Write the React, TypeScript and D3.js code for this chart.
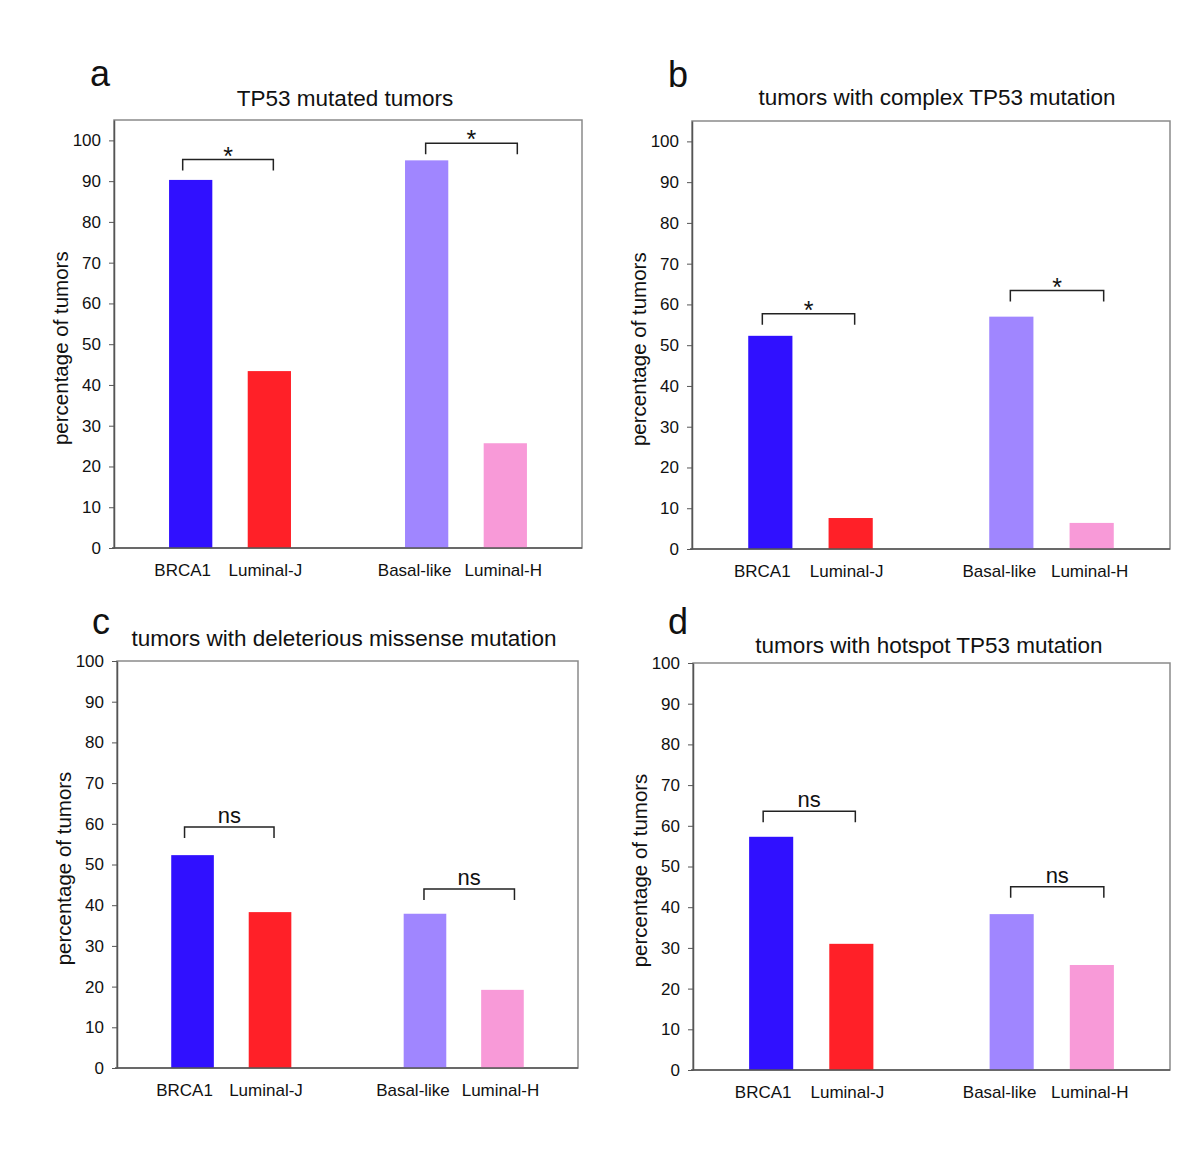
import * as d3 from "d3";
import React, { useEffect, useRef } from "react";

// categories and values (percentage of tumors)
const categories = ["BRCA1", "Luminal-J", "Basal-like", "Luminal-H"];
const slots = ["BRCA1", "Luminal-J", "gap", "Basal-like", "Luminal-H"];
const barColors = ["#3010ff", "#ff2028", "#a086ff", "#f89ad8"];
const yTicks = [0, 10, 20, 30, 40, 50, 60, 70, 80, 90, 100];

const mutatedValues = [90.3, 43.4, 95.1, 25.7];
const complexValues = [52.3, 7.6, 57.0, 6.4];
const missenseValues = [52.3, 38.3, 37.9, 19.2];
const hotspotValues = [57.3, 31.0, 38.3, 25.8];

const mutatedSig = ["*", "*"];
const complexSig = ["*", "*"];
const missenseSig = ["ns", "ns"];
const hotspotSig = ["ns", "ns"];

// bracket heights in data units (pair 1, pair 2)
const mutatedBracket = [95.3, 99.3];
const complexBracket = [57.7, 63.4];
const missenseBracket = [59.2, 44.0];
const hotspotBracket = [63.6, 45.0];

// small hand placement offsets of the original (px)
const labelShift = [-8, -4, -12, -2];
const bracketShift = [[-8, 4], [-1, 12]];

const panels = [
  { letter: "a", title: "TP53 mutated tumors", values: mutatedValues, sig: mutatedSig, bracket: mutatedBracket,
    left: 114, right: 582, bottom: 548, top: 120, yMax: 105, titleX: 345, titleY: 106, letterX: 100, letterY: 86 },
  { letter: "b", title: "tumors with complex TP53 mutation", values: complexValues, sig: complexSig, bracket: complexBracket,
    left: 692, right: 1170, bottom: 549, top: 121, yMax: 105, titleX: 937, titleY: 105, letterX: 678, letterY: 87 },
  { letter: "c", title: "tumors with deleterious missense mutation", values: missenseValues, sig: missenseSig, bracket: missenseBracket,
    left: 117, right: 578, bottom: 1068, top: 661, yMax: 100, titleX: 344, titleY: 646, letterX: 101, letterY: 634 },
  { letter: "d", title: "tumors with hotspot TP53 mutation", values: hotspotValues, sig: hotspotSig, bracket: hotspotBracket,
    left: 693, right: 1170, bottom: 1070, top: 663, yMax: 100, titleX: 929, titleY: 653, letterX: 678, letterY: 634 },
];

const FONT = "'Liberation Sans', Arial, Helvetica, sans-serif";

export default function App() {
  const svgRef = useRef<SVGSVGElement | null>(null);

  useEffect(() => {
    const svg = d3.select(svgRef.current);
    svg.selectAll("*").remove();
    svg.append("rect").attr("width", 1200).attr("height", 1150).attr("fill", "white");

    panels.forEach(p => {
      const x = d3.scaleBand<string>()
        .domain(slots)
        .range([p.left, p.right])
        .paddingInner(0.45)
        .paddingOuter(0.7);
      const y = d3.scaleLinear().domain([0, p.yMax]).range([p.bottom, p.top]);
      const g = svg.append("g").attr("font-family", FONT);

      // frame (top/right lighter)
      g.append("rect")
        .attr("x", p.left).attr("y", p.top)
        .attr("width", p.right - p.left).attr("height", p.bottom - p.top)
        .attr("fill", "none").attr("stroke", "#8a8a8a").attr("stroke-width", 1.5);

      // bars
      g.append("g").selectAll("rect")
        .data(categories)
        .join("rect")
        .attr("x", c => x(c) ?? 0)
        .attr("y", (c, i) => y(p.values[i]))
        .attr("width", x.bandwidth())
        .attr("height", (c, i) => y(0) - y(p.values[i]))
        .attr("fill", (c, i) => barColors[i]);

      // y axis
      const yAxis = g.append("g")
        .attr("transform", `translate(${p.left},0)`)
        .call(d3.axisLeft(y).tickValues(yTicks).tickSize(5).tickPadding(8).tickSizeOuter(0));
      yAxis.select(".domain").attr("stroke", "#555").attr("stroke-width", 1.5);
      yAxis.selectAll(".tick line").attr("stroke", "#555");
      yAxis.selectAll("text").attr("font-size", 17).attr("fill", "#111").attr("font-family", FONT);

      // x axis line
      g.append("line")
        .attr("x1", p.left - 2).attr("x2", p.right)
        .attr("y1", y(0)).attr("y2", y(0))
        .attr("stroke", "#555").attr("stroke-width", 1.5);

      // category labels
      g.append("g").selectAll("text")
        .data(categories)
        .join("text")
        .attr("x", (c, i) => (x(c) ?? 0) + x.bandwidth() / 2 + labelShift[i])
        .attr("y", y(0) + 28)
        .attr("text-anchor", "middle")
        .attr("font-size", 17)
        .attr("fill", "#111")
        .text(c => c);

      // significance brackets
      const pairs = [[categories[0], categories[1]], [categories[2], categories[3]]];
      pairs.forEach((pair, k) => {
        const x1 = (x(pair[0]) ?? 0) + x.bandwidth() / 2 + bracketShift[k][0];
        const x2 = (x(pair[1]) ?? 0) + x.bandwidth() / 2 + bracketShift[k][1];
        const yb = y(p.bracket[k]);
        g.append("path")
          .attr("d", `M${x1},${yb + 11}V${yb}H${x2}V${yb + 11}`)
          .attr("fill", "none").attr("stroke", "#222").attr("stroke-width", 1.5);
        const isStar = p.sig[k] === "*";
        g.append("text")
          .attr("x", (x1 + x2) / 2)
          .attr("y", isStar ? yb + 5 : yb - 4)
          .attr("text-anchor", "middle")
          .attr("font-size", isStar ? 25 : 22)
          .attr("fill", "#111")
          .text(p.sig[k]);
      });

      // y axis title
      g.append("text")
        .attr("transform", `translate(${p.left - 54},${y(50) + 4}) rotate(-90)`)
        .attr("text-anchor", "middle")
        .attr("dominant-baseline", "central")
        .attr("font-size", 20.5)
        .attr("fill", "#111")
        .text("percentage of tumors");

      // panel title and letter
      g.append("text")
        .attr("x", p.titleX).attr("y", p.titleY)
        .attr("text-anchor", "middle")
        .attr("font-size", 22.5)
        .attr("fill", "#111")
        .text(p.title);
      g.append("text")
        .attr("x", p.letterX).attr("y", p.letterY)
        .attr("text-anchor", "middle")
        .attr("font-size", 36)
        .attr("fill", "#111")
        .text(p.letter);
    });
  }, []);

  return (
    <div style={{ width: 1200, height: 1150, margin: -8 }}>
      <svg ref={svgRef} width={1200} height={1150} style={{ display: "block" }} />
    </div>
  );
}
